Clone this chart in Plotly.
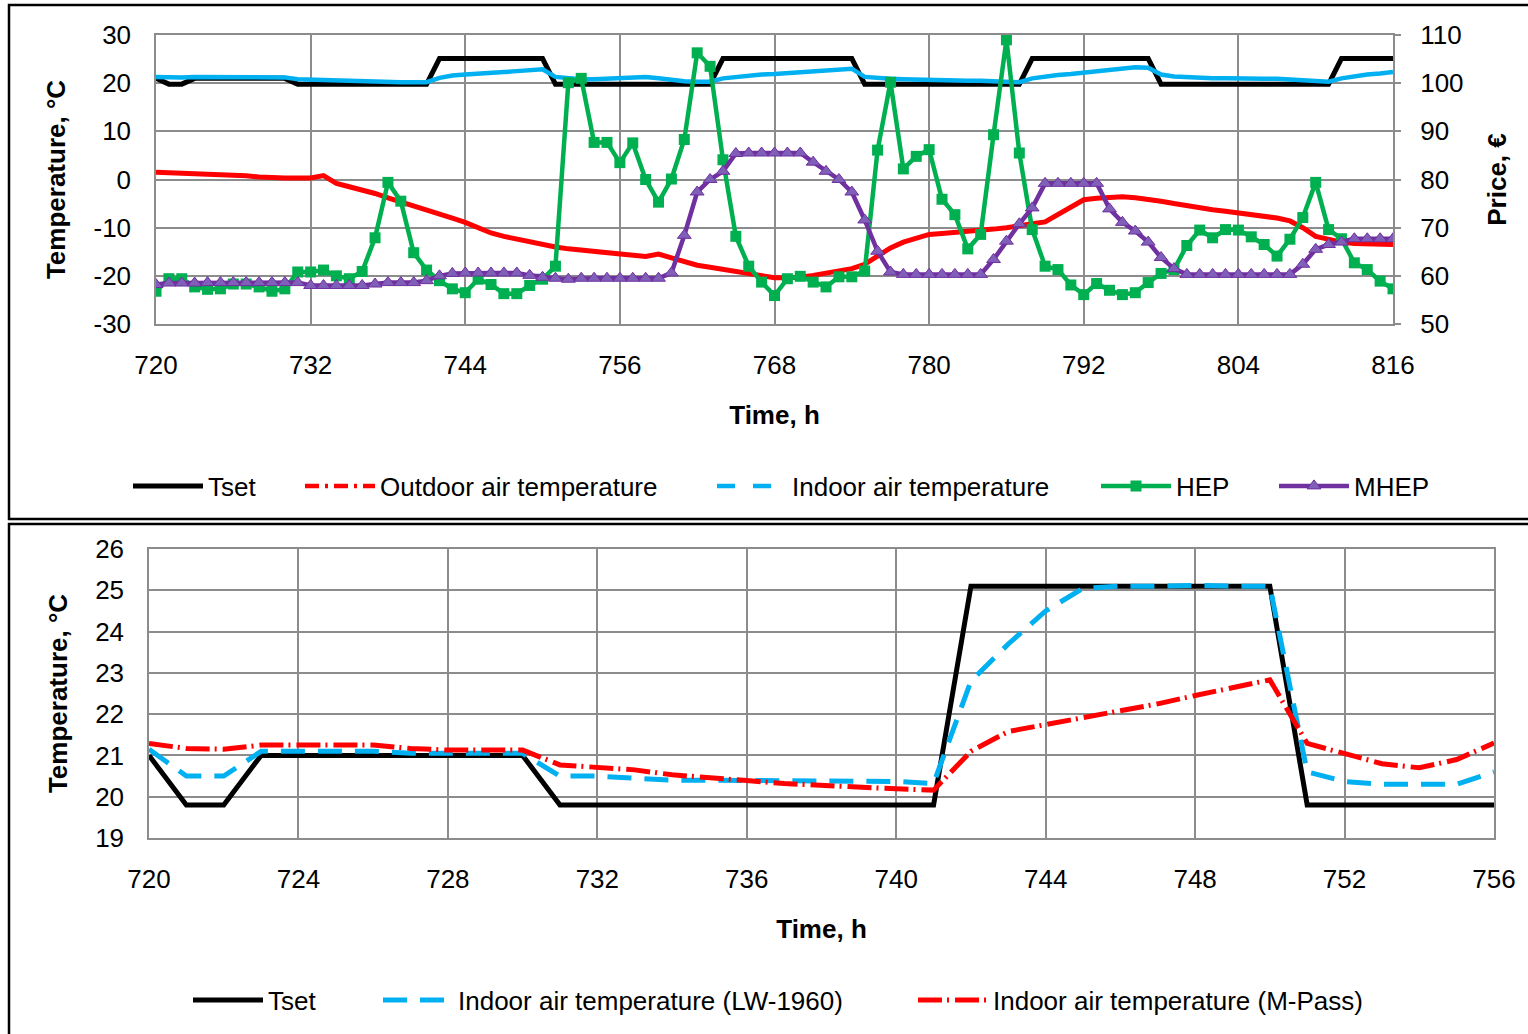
import plotly.graph_objects as go

W, H = 1528, 1034

# ---------------- data: top chart (hourly, 720..816) ----------------
hours_top = list(range(720, 817))

tset_top = [21.0, 19.8, 19.8] + [21.0] * 8 + [19.8] * 11 + [25.1] * 9 + [19.8] * 13 + \
           [25.1] * 11 + [19.8] * 13 + [25.1] * 10 + [19.8] * 14 + [25.1] * 5

outdoor_top = [
    1.5, 1.4, 1.3, 1.2, 1.1, 1.1, 1.0, 0.8, 0.5, 0.3, 0.3, 0.3,
    0.3, 0.8, -0.8, -1.5, -2.1, -2.9, -3.8, -4.6, -5.4, -6.2, -7.1, -8.0,
    -8.9, -10.0, -11.1, -11.8, -12.4, -13.0, -13.6, -14.0, -14.4, -14.7, -15.0, -15.2,
    -15.5, -15.8, -16.0, -15.5, -16.3, -17.2, -17.8, -18.2, -18.6, -19.0, -19.5, -20.0,
    -20.4, -20.4, -20.3, -19.9, -19.4, -19.0, -18.5, -17.6, -16.0, -14.2, -13.0, -12.2,
    -11.4, -11.2, -11.0, -10.9, -10.7, -10.3, -10.0, -9.5, -9.2, -8.8, -7.3, -5.6,
    -4.2, -3.9, -3.7, -3.6, -3.8, -4.1, -4.5, -5.0, -5.5, -5.9, -6.3, -6.6,
    -6.9, -7.3, -7.6, -8.0, -8.6, -10.0, -11.8, -12.5, -13.0, -13.3, -13.4, -13.5,
    -13.5,
]

indoor_top = [
    21.3, 21.2, 21.2, 21.3, 21.3, 21.3, 21.3, 21.2, 21.2, 21.2, 21.2, 20.8,
    20.7, 20.6, 20.5, 20.5, 20.4, 20.3, 20.3, 20.2, 20.2, 20.2, 21.1, 21.6,
    21.8, 21.9, 22.1, 22.3, 22.5, 22.6, 22.9, 21.3, 21.0, 20.8, 20.8, 20.9,
    21.2, 21.3, 21.3, 21.0, 20.6, 20.4, 20.3, 20.3, 21.0, 21.3, 21.6, 21.8,
    21.9, 22.1, 22.2, 22.3, 22.5, 22.7, 23.0, 21.3, 21.0, 20.9, 20.8, 20.7,
    20.7, 20.6, 20.6, 20.5, 20.5, 20.4, 20.3, 20.2, 21.0, 21.4, 21.7, 21.9,
    22.2, 22.4, 22.6, 22.9, 23.3, 23.2, 21.8, 21.4, 21.2, 21.1, 21.0, 21.0,
    20.9, 20.9, 20.9, 20.9, 20.8, 20.7, 20.5, 20.3, 21.0, 21.5, 21.8, 22.0,
    22.3,
]

hep_price = [
    56.8, 59.4, 59.4, 57.7, 57.2, 57.3, 58.3, 58.3, 57.7, 56.8, 57.3, 60.8,
    60.8, 61.2, 60.0, 59.4, 60.9, 67.9, 79.4, 75.5, 64.8, 61.2, 59.0, 57.3,
    56.5, 59.3, 58.2, 56.3, 56.3, 58.0, 59.3, 62.0, 100.1, 101.0, 87.7, 87.7,
    83.5, 87.6, 80.0, 75.3, 80.1, 88.3, 106.3, 103.5, 84.1, 68.2, 62.0, 58.7,
    55.9, 59.4, 59.9, 58.7, 57.7, 59.8, 59.8, 61.0, 86.1, 100.2, 82.2, 84.8,
    86.2, 75.9, 72.7, 65.6, 68.6, 89.3, 109.0, 85.5, 69.6, 62.0, 61.3, 58.1,
    56.1, 58.4, 57.0, 56.1, 56.5, 58.6, 60.5, 61.3, 66.3, 69.5, 67.9, 69.6,
    69.5, 68.1, 66.5, 64.1, 67.6, 72.1, 79.4, 69.6, 67.7, 62.7, 61.3, 58.9,
    57.3,
]

mhep_price = [
    58.2, 58.5, 58.5, 58.5, 58.6, 58.6, 58.6, 58.6, 58.6, 58.6, 58.6, 58.6,
    58.0, 58.0, 58.0, 58.0, 58.0, 58.3, 58.6, 58.6, 58.6, 59.0, 60.0, 60.5,
    60.6, 60.6, 60.6, 60.6, 60.6, 60.1, 59.7, 59.5, 59.3, 59.5, 59.5, 59.5,
    59.5, 59.5, 59.5, 59.5, 60.6, 68.4, 77.4, 80.0, 81.7, 85.4, 85.5, 85.5,
    85.5, 85.5, 85.5, 83.6, 81.7, 80.0, 77.4, 71.6, 65.1, 60.8, 60.3, 60.3,
    60.3, 60.3, 60.3, 60.3, 60.3, 63.4, 67.2, 70.8, 74.1, 79.2, 79.2, 79.2,
    79.2, 79.2, 73.9, 71.1, 69.3, 67.0, 63.8, 61.5, 60.3, 60.3, 60.3, 60.3,
    60.3, 60.3, 60.3, 60.3, 60.3, 62.4, 65.5, 66.5, 67.0, 67.7, 67.7, 67.7,
    67.7,
]

temp_top_ticks = [-30, -20, -10, 0, 10, 20, 30]
temp_top_labels = ["-30", "-20", "-10", "0", "10", "20", "30"]
price_ticks = [50, 60, 70, 80, 90, 100, 110]

# ---------------- data: bottom chart (hourly, 720..756) ----------------
hours_bot = list(range(720, 757))
tset_bot = [21.0, 19.8, 19.8] + [21.0] * 8 + [19.8] * 11 + [25.1] * 9 + [19.8] * 6
indoor_lw1960 = [
    21.15, 20.5, 20.5, 21.1, 21.1, 21.1, 21.1, 21.05, 21.05, 21.05, 21.05, 20.5,
    20.5, 20.45, 20.4, 20.4, 20.4, 20.4, 20.38, 20.38, 20.37, 20.32, 22.8, 23.7,
    24.5, 25.05, 25.1, 25.1, 25.12, 25.1, 25.1, 20.6, 20.37, 20.3, 20.3, 20.3,
    20.6,
]
indoor_mpass = [
    21.29, 21.17, 21.15, 21.25, 21.25, 21.25, 21.25, 21.17, 21.13, 21.13, 21.13, 20.77,
    20.7, 20.65, 20.53, 20.45, 20.39, 20.32, 20.27, 20.23, 20.19, 20.16, 21.1, 21.58,
    21.74, 21.9, 22.08, 22.25, 22.45, 22.63, 22.83, 21.29, 21.05, 20.8, 20.7, 20.9,
    21.3,
]

assert len(tset_top) == len(hours_top) == len(outdoor_top) == len(indoor_top) == len(hep_price) == len(mhep_price)
assert len(tset_bot) == len(hours_bot) == len(indoor_lw1960) == len(indoor_mpass)

# ---------------- styling ----------------
FONT = "Liberation Sans, Arial, sans-serif"
FS = 26
GRID = "#8c8c8c"
BLACK, RED, BLUE, GREEN, PURPLE = "#000000", "#ff0000", "#00b0f0", "#00b050", "#7030a0"


def px_x(p):
    return p / W


def px_y(p):
    return 1 - p / H


fig = go.Figure()

# ---- top chart traces ----
fig.add_trace(go.Scatter(x=hours_top, y=tset_top, mode="lines", name="Tset",
                         line=dict(color=BLACK, width=5), xaxis="x", yaxis="y", legend="legend"))
fig.add_trace(go.Scatter(x=hours_top, y=outdoor_top, mode="lines", name="Outdoor air temperature",
                         line=dict(color=RED, width=5), xaxis="x", yaxis="y", showlegend=False))
fig.add_trace(go.Scatter(x=[None], y=[None], mode="lines", name="Outdoor air temperature",
                         line=dict(color=RED, width=4.5, dash="14px,6px,3px,6px"), xaxis="x", yaxis="y",
                         legend="legend2"))
fig.add_trace(go.Scatter(x=hours_top, y=indoor_top, mode="lines", name="Indoor air temperature",
                         line=dict(color=BLUE, width=4.5), xaxis="x", yaxis="y", showlegend=False))
fig.add_trace(go.Scatter(x=[None], y=[None], mode="lines", name="Indoor air temperature",
                         line=dict(color=BLUE, width=4.5, dash="18px,18px"), xaxis="x", yaxis="y",
                         legend="legend3"))
fig.add_trace(go.Scatter(x=hours_top, y=hep_price, mode="lines+markers", name="HEP",
                         line=dict(color=GREEN, width=4.5),
                         marker=dict(symbol="square", size=11, color=GREEN),
                         xaxis="x", yaxis="y2", legend="legend4"))
fig.add_trace(go.Scatter(x=hours_top, y=mhep_price, mode="lines+markers", name="MHEP",
                         line=dict(color=PURPLE, width=4.5),
                         marker=dict(symbol="triangle-up", size=12, color="#7f5fb8",
                                     line=dict(color=PURPLE, width=1)),
                         xaxis="x", yaxis="y2", legend="legend5"))

# ---- bottom chart traces ----
fig.add_trace(go.Scatter(x=hours_bot, y=tset_bot, mode="lines", name="Tset",
                         line=dict(color=BLACK, width=5), xaxis="x2", yaxis="y3", legend="legend6"))
fig.add_trace(go.Scatter(x=hours_bot, y=indoor_lw1960, mode="lines", name="Indoor air temperature (LW-1960)",
                         line=dict(color=BLUE, width=5, dash="24px,13px"),
                         xaxis="x2", yaxis="y3", legend="legend7"))
fig.add_trace(go.Scatter(x=hours_bot, y=indoor_mpass, mode="lines", name="Indoor air temperature (M-Pass)",
                         line=dict(color=RED, width=5, dash="24px,5px,2px,6px"),
                         xaxis="x2", yaxis="y3", legend="legend8"))

axis_common = dict(showgrid=True, gridcolor=GRID, gridwidth=1.5, showline=True, linecolor=GRID,
                   linewidth=1.5, mirror=True, zeroline=False, ticks="",
                   tickfont=dict(family=FONT, size=FS, color="black"), automargin=False)
title_font = dict(family=FONT, size=FS, color="black", weight="bold")


def legend_at(xpx, ypx):
    return dict(orientation="h", x=px_x(xpx), y=px_y(ypx), xanchor="left", yanchor="middle",
                font=dict(family=FONT, size=FS, color="black"), bgcolor="rgba(0,0,0,0)",
                itemwidth=70, borderwidth=0)


fig.update_layout(
    width=W, height=H,
    margin=dict(l=0, r=0, t=0, b=0),
    paper_bgcolor="white", plot_bgcolor="white",
    font=dict(family=FONT, size=FS, color="black"),
    xaxis=dict(axis_common, domain=[px_x(156), px_x(1393)], range=[720, 816], tick0=720, dtick=12,
               anchor="y", ticklabelstandoff=17,
               title=dict(text="Time, h", font=title_font, standoff=27)),
    yaxis=dict(axis_common, domain=[px_y(324), px_y(35)], range=[-30, 30],
               tickmode="array", tickvals=temp_top_ticks, ticktext=temp_top_labels,
               anchor="x", ticklabelstandoff=18,
               title=dict(text="Temperature, °C", font=title_font, standoff=20)),
    yaxis2=dict(overlaying="y", side="right", anchor="x", range=[50, 110],
                tickmode="array", tickvals=price_ticks,
                showgrid=False, zeroline=False, showline=False,
                ticks="outside", ticklen=7, tickcolor=GRID, tickwidth=1.5,
                ticklabelstandoff=14, automargin=False,
                tickfont=dict(family=FONT, size=FS, color="black"),
                title=dict(text="Price, €", font=title_font, standoff=25)),
    xaxis2=dict(axis_common, domain=[px_x(149), px_x(1494)], range=[720, 756], tick0=720, dtick=4,
                anchor="y3", ticklabelstandoff=17,
                title=dict(text="Time, h", font=title_font, standoff=27)),
    yaxis3=dict(axis_common, domain=[px_y(838), px_y(549)], range=[19, 26], dtick=1,
                anchor="x2", ticklabelstandoff=18,
                title=dict(text="Temperature, °C", font=title_font, standoff=20)),
    legend=legend_at(128, 486),
    legend2=legend_at(300, 486),
    legend3=legend_at(712, 486),
    legend4=legend_at(1096, 486),
    legend5=legend_at(1274, 486),
    legend6=legend_at(188, 1000),
    legend7=legend_at(378, 1000),
    legend8=legend_at(913, 1000),
    shapes=[
        dict(type="rect", xref="paper", yref="paper", x0=px_x(9), x1=px_x(1540), y0=px_y(519), y1=px_y(5),
             line=dict(color="black", width=2.5), layer="above"),
        dict(type="rect", xref="paper", yref="paper", x0=px_x(9), x1=px_x(1540), y0=px_y(1045), y1=px_y(524),
             line=dict(color="black", width=2.5), layer="above"),
    ],
)

fig.write_html("out.html")
